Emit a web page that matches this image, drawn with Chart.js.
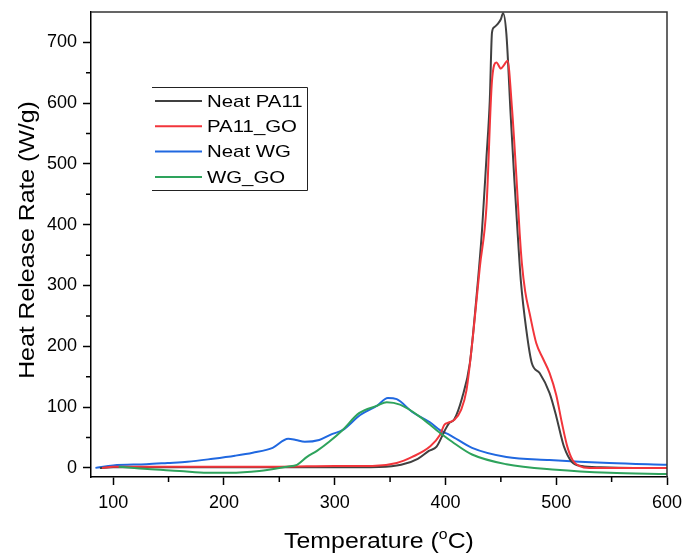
<!DOCTYPE html>
<html>
<head>
<meta charset="utf-8">
<script src="https://cdn.jsdelivr.net/npm/chart.js@4/dist/chart.umd.min.js"></script>
<style>
  body { margin: 0; background: #fff; }
  #wrap { width: 684px; height: 553px; }
</style>
</head>
<body>
<div id="wrap"><canvas id="hrr"></canvas></div>
<script>
// Temperature (C) and heat release rate (W/g)
var pa11_temp = [88, 100, 150, 200, 250, 300, 340, 360, 375, 385, 392, 399, 403, 408, 415, 422, 428, 433, 437, 440, 442, 444, 447, 450, 452, 455, 459, 462, 465, 468, 473, 478, 485, 494, 500, 504, 507, 514, 523, 540, 570, 600];
var pa11_hrr  = [0, 1, 1, 1, 1, 1, 1.5, 5, 15, 28, 35, 60, 73, 80, 115, 172, 281, 391, 510, 604, 716, 725, 730, 738, 748, 714, 576, 480, 391, 309, 227, 172, 156, 123, 85, 55, 35, 10, 3, 1, 0, 0];

var pa11go_temp = [90, 100, 150, 200, 250, 300, 334, 356, 370, 386, 395, 399, 402, 408, 414, 419, 425, 431, 437, 442, 446, 450, 453, 456, 460, 464, 467, 469, 472, 476, 482, 488, 494, 500, 505, 510, 515, 521, 530, 560, 600];
var pa11go_hrr  = [0, 2, 2, 2, 2, 3, 3, 8, 18, 35, 54, 71, 74, 79, 95, 128, 220, 330, 429, 637, 667, 657, 663, 670, 593, 480, 386, 336, 290, 254, 205, 180, 156, 120, 75, 35, 12, 3, 0, 0, 0];

var wg_temp = [84, 100, 130, 149, 167, 190, 210, 226, 244, 258, 265, 273, 286, 298, 307, 323, 338, 348, 356, 370, 386, 395, 404, 424, 455, 494, 548, 600];
var wg_hrr  = [0, 4, 6, 8, 10, 15, 20, 25, 33, 48, 46, 43, 46, 56, 62, 87, 102, 115, 113, 92, 75, 62, 54, 33, 18, 13, 8, 5];

var wggo_temp = [105, 131, 160, 185, 205, 232, 257, 266, 275, 284, 295, 307, 322, 338, 347, 359, 377, 392, 406, 424, 455, 500, 548, 600];
var wggo_hrr  = [2, -2, -5, -8, -8, -5, 2, 5, 18, 28, 43, 62, 90, 102, 108, 104, 84, 62, 43, 22, 6, -3, -8, -10];

var series_names  = ["Neat PA11", "PA11_GO", "Neat WG", "WG_GO"];
var series_colors = ["#404040", "#f2353b", "#2068e0", "#2ea35c"];

var x_ticks = [100, 200, 300, 400, 500, 600];
var x_minor = [150, 250, 350, 450, 550];
var y_ticks = [0, 100, 200, 300, 400, 500, 600, 700];
var y_minor = [50, 150, 250, 350, 450, 550, 650];

function to_points(xs, ys) {
  var pts = [];
  for (var i = 0; i < xs.length; i++) pts.push({ x: xs[i], y: ys[i] });
  return pts;
}

var all_data = [
  to_points(pa11_temp, pa11_hrr),
  to_points(pa11go_temp, pa11go_hrr),
  to_points(wg_temp, wg_hrr),
  to_points(wggo_temp, wggo_hrr)
];
var draw_order = [3, 2, 4, 1];

var datasets = [];
for (var i = 0; i < series_names.length; i++) {
  datasets.push({
    label: series_names[i],
    data: all_data[i],
    borderColor: series_colors[i],
    borderWidth: 2,
    pointRadius: 0,
    fill: false,
    cubicInterpolationMode: 'monotone',
    order: draw_order[i]
  });
}

var FONT = "'Liberation Sans', Arial, sans-serif";
var STRETCH = 1.13;  // the original text runs a bit wider than Arial

// draws text stretched along its own direction
function wide_text(ctx, txt, x, y) {
  ctx.save();
  ctx.translate(x, y);
  ctx.scale(STRETCH, 1);
  ctx.fillText(txt, 0, 0);
  ctx.restore();
}

// frame, minor ticks, axis titles and legend box
var extras = {
  id: 'extras',
  afterDraw: function(chart) {
    var ctx = chart.ctx;
    var a = chart.chartArea;
    var xs = chart.scales.x, ys = chart.scales.y;
    ctx.save();
    // top and right frame
    ctx.strokeStyle = '#333';
    ctx.lineWidth = 1.5;
    ctx.beginPath();
    ctx.moveTo(a.left, a.top); ctx.lineTo(a.right, a.top); ctx.lineTo(a.right, a.bottom);
    ctx.stroke();
    // minor ticks
    ctx.strokeStyle = '#000';
    ctx.beginPath();
    x_minor.forEach(function(v) {
      var px = xs.getPixelForValue(v);
      ctx.moveTo(px, a.bottom); ctx.lineTo(px, a.bottom + 5);
    });
    y_minor.forEach(function(v) {
      var py = ys.getPixelForValue(v);
      ctx.moveTo(a.left, py); ctx.lineTo(a.left - 5, py);
    });
    ctx.stroke();

    // x title with superscript o
    ctx.fillStyle = '#000';
    ctx.textBaseline = 'alphabetic';
    ctx.textAlign = 'left';
    var big = '22px ' + FONT, small = '14px ' + FONT;
    ctx.font = big;
    var p1 = 'Temperature (', p3 = 'C)';
    var w1 = ctx.measureText(p1).width * STRETCH, w3 = ctx.measureText(p3).width * STRETCH;
    ctx.font = small;
    var w2 = ctx.measureText('o').width * STRETCH;
    var sx = 379 - (w1 + w2 + w3) / 2;
    var by = 548;
    ctx.font = big;
    wide_text(ctx, p1, sx, by);
    ctx.font = small;
    wide_text(ctx, 'o', sx + w1, by - 9);
    ctx.font = big;
    wide_text(ctx, p3, sx + w1 + w2, by);

    // y title
    ctx.save();
    ctx.translate(34, 240);
    ctx.rotate(-Math.PI / 2);
    ctx.font = big;
    var yt = 'Heat Release Rate (W/g)';
    var yw = ctx.measureText(yt).width * STRETCH;
    wide_text(ctx, yt, -yw / 2, 0);
    ctx.restore();

    // legend
    ctx.strokeStyle = '#222';
    ctx.lineWidth = 1;
    ctx.beginPath();
    ctx.moveTo(152, 87.5); ctx.lineTo(307.5, 87.5); ctx.lineTo(307.5, 190.5); ctx.lineTo(152, 190.5);
    ctx.stroke();
    ctx.font = '17px ' + FONT;
    ctx.textBaseline = 'middle';
    chart.data.datasets.forEach(function(ds, k) {
      var ly = 101 + k * 25.3;
      ctx.strokeStyle = ds.borderColor;
      ctx.lineWidth = 2;
      ctx.beginPath();
      ctx.moveTo(155, ly); ctx.lineTo(202, ly);
      ctx.stroke();
      ctx.fillStyle = '#000';
      ctx.save();
      ctx.translate(207, ly + 1);
      ctx.scale(1.2, 1);
      ctx.fillText(ds.label, 0, 0);
      ctx.restore();
    });
    ctx.restore();
  }
};

new Chart(document.getElementById('hrr'), {
  type: 'line',
  data: { datasets: datasets },
  options: {
    responsive: true,
    maintainAspectRatio: false,
    animation: false,
    layout: { padding: { top: 12, right: 17, left: 0, bottom: 0 } },
    plugins: {
      legend: { display: false },
      tooltip: { enabled: false }
    },
    scales: {
      x: {
        type: 'linear',
        min: 80,
        max: 600,
        afterBuildTicks: function(scale) { scale.ticks = x_ticks.map(function(v) { return { value: v }; }); },
        afterFit: function(scale) { scale.height = 76; scale.paddingRight = 0; scale.paddingLeft = 0; },
        border: { display: true, color: '#000', width: 1.5 },
        grid: { drawOnChartArea: false, drawTicks: true, tickLength: 8, tickColor: '#000', tickWidth: 1.5 },
        ticks: { color: '#000', padding: 7, maxRotation: 0, font: { family: FONT, size: 18 } }
      },
      y: {
        type: 'linear',
        min: -15,
        max: 750,
        afterBuildTicks: function(scale) { scale.ticks = y_ticks.map(function(v) { return { value: v }; }); },
        afterFit: function(scale) { scale.width = 91; scale.paddingTop = 0; scale.paddingBottom = 0; },
        border: { display: true, color: '#000', width: 1.5 },
        grid: { drawOnChartArea: false, drawTicks: true, tickLength: 8, tickColor: '#000', tickWidth: 1.5 },
        ticks: { color: '#000', padding: 6, font: { family: FONT, size: 18 } }
      }
    }
  },
  plugins: [extras]
});
</script>
</body>
</html>
